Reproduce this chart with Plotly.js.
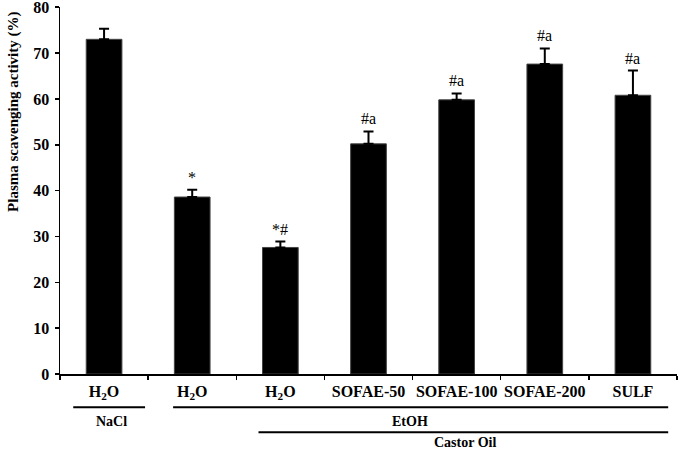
<!DOCTYPE html>
<html>
<head>
<meta charset="utf-8">
<script src="https://cdn.plot.ly/plotly-3.0.1.min.js"></script>
<style>html,body{margin:0;padding:0;background:#fff;}#chart{width:681px;height:449px;}</style>
</head>
<body>
<div id="chart"></div>
<script>
// ---- data ----
const groupIds = ['NaCl-H2O', 'EtOH-H2O', 'Castor-H2O', 'SOFAE-50', 'SOFAE-100', 'SOFAE-200', 'SULF'];
const tickLabels = ['H<sub>2</sub>O', 'H<sub>2</sub>O', 'H<sub>2</sub>O', 'SOFAE-50', 'SOFAE-100', 'SOFAE-200', 'SULF'];
const values = [73.0, 38.6, 27.6, 50.2, 59.8, 67.6, 60.8];
const errors = [2.3, 1.6, 1.3, 2.7, 1.4, 3.4, 5.4];
const sigLabels = ['', '*', '*#', '#a', '#a', '#a', '#a'];
const yTickVals = [0, 10, 20, 30, 40, 50, 60, 70, 80];
const yTitle = 'Plasma scavenging activity (%)';
const groupNames = ['NaCl', 'EtOH', 'Castor Oil'];

const serif = '"Liberation Serif", "Times New Roman", serif';

const trace = {
  type: 'bar',
  x: groupIds,
  y: values,
  width: 0.405,
  marker: {color: '#000000', line: {color: '#444444', width: 1}},
  error_y: {type: 'data', symmetric: false, array: errors, arrayminus: errors.map(() => 0),
            color: '#000000', thickness: 2, width: 5},
  hoverinfo: 'none'
};

const annotations = [];
groupIds.forEach((g, i) => {
  if (sigLabels[i]) {
    annotations.push({x: g, y: values[i] + errors[i], xref: 'x', yref: 'y', text: sigLabels[i],
      showarrow: false, yanchor: 'bottom', yshift: 2,
      font: {family: serif, size: 16, color: '#000'}});
  }
});
// y-axis title (positioned toward the top like the reference)
annotations.push({x: -0.0746, y: 0.714, xref: 'paper', yref: 'paper', text: '<b>' + yTitle + '</b>',
  textangle: -90, showarrow: false, xanchor: 'center', yanchor: 'middle',
  font: {family: serif, size: 15, color: '#000'}});
// group labels under the axis
const groupTextPos = [[0.08, -0.129], [3.47, -0.129], [4.1, -0.187]];
groupNames.forEach((n, i) => {
  annotations.push({x: groupTextPos[i][0], y: groupTextPos[i][1], xref: 'x', yref: 'paper',
    text: '<b>' + n + '</b>', showarrow: false, xanchor: 'center', yanchor: 'middle',
    borderpad: 0,
    font: {family: serif, size: 14, color: '#000'}});
});

const lineSpans = [[-0.35, 0.465, -0.0903], [0.783, 6.40, -0.0903], [1.752, 6.40, -0.159]];
const shapes = lineSpans.map(s => ({type: 'line', xref: 'x', yref: 'paper', x0: s[0], x1: s[1], y0: s[2], y1: s[2],
  line: {color: '#000', width: 2}}));

const layout = {
  width: 681, height: 449,
  margin: {l: 60, r: 4, t: 7, b: 75},
  paper_bgcolor: '#fff', plot_bgcolor: '#fff',
  showlegend: false,
  bargap: 0.595,
  font: {family: serif, size: 16, color: '#000'},
  xaxis: {
    type: 'category',
    tickmode: 'array', tickvals: groupIds, ticktext: tickLabels,
    tickson: 'boundaries', ticks: 'outside', ticklen: 4, tickwidth: 1.5, tickcolor: '#000',
    showline: true, linecolor: '#000', linewidth: 1.5,
    showgrid: false, zeroline: false,
    tickangle: 0, automargin: false,
    ticklabelstandoff: 2,
    tickfont: {family: serif, size: 16, color: '#000', weight: 'bold'},
    range: [-0.5, 6.5], fixedrange: true
  },
  yaxis: {
    range: [0, 80.05], tickmode: 'array', tickvals: yTickVals,
    ticks: 'outside', ticklen: 4, tickwidth: 1.5, tickcolor: '#000',
    showline: true, linecolor: '#000', linewidth: 1.5,
    showgrid: false, zeroline: false,
    ticklabelstandoff: 2, ticklabeloverflow: 'allow', automargin: false,
    tickfont: {family: serif, size: 16, color: '#000', weight: 'bold'},
    fixedrange: true
  },
  annotations: annotations,
  shapes: shapes
};

Plotly.newPlot('chart', [trace], layout, {displayModeBar: false, staticPlot: true});
</script>
</body>
</html>
